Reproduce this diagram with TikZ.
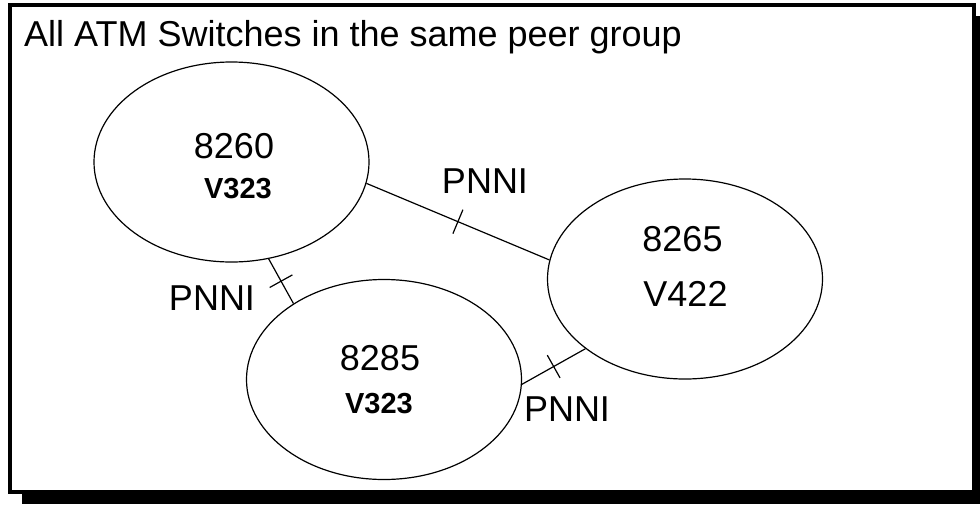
\documentclass[tikz,border=0pt]{standalone}
\usepackage{fontspec}
\setmainfont{Liberation Sans}
\usetikzlibrary{shapes.geometric}
\usetikzlibrary{decorations.markings}

\tikzset{
  atmswitch/.style={draw, ellipse, line width=1.2pt, minimum width=275pt, minimum height=200pt, inner sep=0pt},
  bigtext/.style={font=\fontsize{36}{40}\selectfont, inner sep=0pt, anchor=base},
  vertext/.style={font=\fontsize{29}{33}\selectfont\bfseries, inner sep=0pt, anchor=base},
  pnnilink/.style={line width=1.2pt, postaction={decorate},
    decoration={markings, mark=at position 0.5 with {\draw[line width=1.2pt] (0,-13pt) -- (0,13pt);}}}
}

\begin{document}
\begin{tikzpicture}[x=1pt, y=-1pt]
	\useasboundingbox (0,0) rectangle (980,504);
	% frame with shadow
	\fill[black] (22,16) rectangle (980,504);
	\draw[line width=4pt, fill=white] (10,5) rectangle (974,492);
	\node[bigtext, anchor=base west] (title) at (24,46) {All ATM Switches in the same peer group};
	% draw switches
	\node[atmswitch] (sw8260) at (231.5,162) {};
	\node[atmswitch] (sw8265) at (685,279) {};
	\node[atmswitch] (sw8285) at (384,379.5) {};
	% names and versions
	\node[bigtext] (n8260) at (234,158) {8260};
	\node[vertext] (v8260) at (238,198) {V323};
	\node[bigtext] (n8265) at (682.5,251) {8265};
	\node[bigtext] (v8265) at (685.5,306) {V422};
	\node[bigtext] (n8285) at (380,370) {8285};
	\node[vertext] (v8285) at (379,413) {V323};
	% PNNI links
	\draw[pnnilink] (sw8260.-9.7) -- (sw8265.172);
	\draw[pnnilink] (sw8260.-69) -- (sw8285.140.4);
	\draw[pnnilink] (sw8285.-2.4) -- (sw8265.-145.1);
	\node[bigtext] (p1) at (485,193) {PNNI};
	\node[bigtext] (p2) at (212,310) {PNNI};
	\node[bigtext] (p3) at (567,421) {PNNI};
\end{tikzpicture}
\end{document}
